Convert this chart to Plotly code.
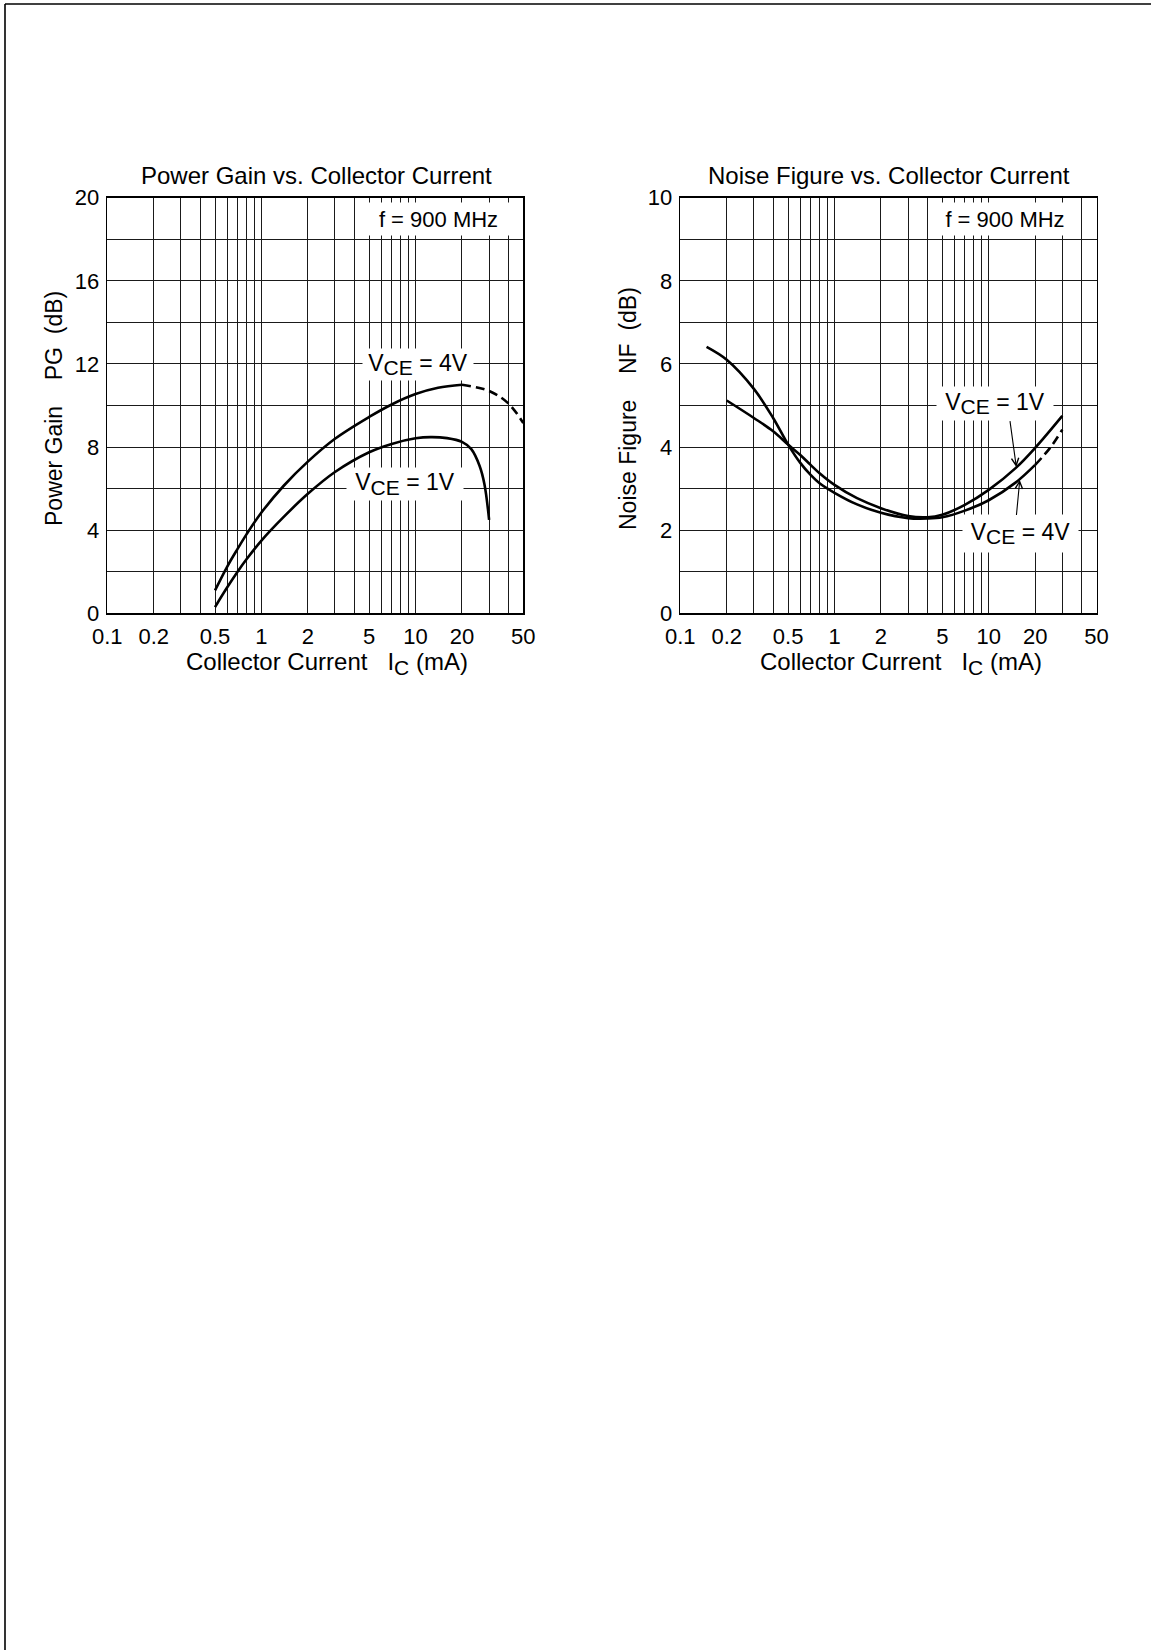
import numpy as np
import plotly.graph_objects as go

# ---------------- data ----------------
# Power gain vs collector current, f = 900 MHz
pg_4v_ic = [0.5, 0.6, 0.7, 0.8, 1.0, 1.4, 2.0, 3.0, 5.0, 7.0, 10.0, 14.0, 20.0]
pg_4v_db = [1.1, 2.25, 3.1, 3.8, 4.85, 6.15, 7.3, 8.4, 9.45, 10.05, 10.55, 10.85, 11.0]
pg_4v_dash_ic = [20.0, 30.0, 40.0, 50.0]
pg_4v_dash_db = [11.0, 10.7, 10.1, 9.15]

pg_1v_ic = [0.5, 0.6, 0.7, 0.8, 1.0, 1.4, 2.0, 3.0, 5.0, 7.0, 10.0, 12.5, 16.0, 20.0, 23.0, 26.0, 28.0, 30.0]
pg_1v_db = [0.3, 1.25, 2.0, 2.6, 3.5, 4.65, 5.75, 6.8, 7.75, 8.15, 8.42, 8.48, 8.43, 8.25, 7.9, 7.1, 6.2, 4.5]

# Noise figure vs collector current, f = 900 MHz
nf_4v_ic = [0.148, 0.2, 0.3, 0.4, 0.5, 0.6, 0.7, 0.8, 1.0, 1.4, 2.0, 3.0, 4.0, 5.0, 7.0, 10.0, 15.0, 20.0]
nf_4v_db = [6.41, 6.1, 5.4, 4.7, 4.06, 3.62, 3.33, 3.13, 2.9, 2.62, 2.42, 2.29, 2.28, 2.31, 2.47, 2.72, 3.15, 3.57]
nf_4v_dash_ic = [20.0, 25.0, 30.0]
nf_4v_dash_db = [3.57, 3.98, 4.42]

nf_1v_ic = [0.2, 0.3, 0.4, 0.5, 0.6, 0.7, 0.8, 1.0, 1.4, 2.0, 3.0, 4.0, 5.0, 7.0, 10.0, 15.0, 20.0, 30.0]
nf_1v_db = [5.12, 4.70, 4.38, 4.06, 3.81, 3.57, 3.37, 3.09, 2.77, 2.53, 2.34, 2.31, 2.37, 2.61, 2.97, 3.50, 3.98, 4.75]

# arrow targets on the NF curves (I_C, NF) and arrow tails
nf_1v_arrow_pt = (15.1, 3.52)
nf_1v_arrow_tail = (13.7, 4.66)
nf_4v_arrow_pt = (15.9, 3.21)
nf_4v_arrow_tail = (15.1, 2.33)

# axis ticks / grid
x_grid = [0.1, 0.2, 0.3, 0.4, 0.5, 0.6, 0.7, 0.8, 0.9,
          1, 2, 3, 4, 5, 6, 7, 8, 9, 10, 20, 30, 40, 50]
x_labels = {0.1: "0.1", 0.2: "0.2", 0.5: "0.5", 1: "1", 2: "2", 5: "5",
            10: "10", 20: "20", 50: "50"}
pg_grid = list(range(0, 21, 2))
pg_labels = [0, 4, 8, 12, 16, 20]
nf_grid = list(range(0, 11, 1))
nf_labels = [0, 2, 4, 6, 8, 10]

# ---------------- layout helpers ----------------
W, H = 1151, 1650
FONT = "Liberation Sans, Arial, Helvetica, sans-serif"


def px(x):
    return x / W


def py(y):
    return 1 - y / H


fig = go.Figure()

line_style = dict(color="black", width=2.6, shape="spline", smoothing=1.0)
dash_style = dict(color="black", width=2.6, shape="spline", smoothing=1.0, dash="9px,5px")

fig.add_trace(go.Scatter(x=pg_4v_ic, y=pg_4v_db, mode="lines", line=line_style, xaxis="x", yaxis="y"))
fig.add_trace(go.Scatter(x=pg_4v_dash_ic, y=pg_4v_dash_db, mode="lines", line=dash_style, xaxis="x", yaxis="y"))
fig.add_trace(go.Scatter(x=pg_1v_ic, y=pg_1v_db, mode="lines", line=line_style, xaxis="x", yaxis="y"))

fig.add_trace(go.Scatter(x=nf_4v_ic, y=nf_4v_db, mode="lines", line=line_style, xaxis="x2", yaxis="y2"))
fig.add_trace(go.Scatter(x=nf_4v_dash_ic, y=nf_4v_dash_db, mode="lines", line=dash_style, xaxis="x2", yaxis="y2"))
fig.add_trace(go.Scatter(x=nf_1v_ic, y=nf_1v_db, mode="lines", line=line_style, xaxis="x2", yaxis="y2"))

x_text = [x_labels.get(v, "") for v in x_grid]


def xaxis_cfg(dom):
    return dict(
        type="log", range=[np.log10(0.1), np.log10(50)], domain=dom,
        tickmode="array", tickvals=x_grid, ticktext=x_text,
        showgrid=True, gridcolor="#1a1a1a", gridwidth=1,
        showline=True, mirror=True, linecolor="black", linewidth=1.6,
        ticks="", ticklen=0, ticklabelstandoff=3, zeroline=False,
        tickfont=dict(family=FONT, size=22, color="black"),
        automargin=False, fixedrange=True,
    )


def yaxis_cfg(dom, rng, grid, labels, anchor):
    return dict(
        range=rng, domain=dom, anchor=anchor,
        tickmode="array", tickvals=grid,
        ticktext=[str(v) if v in labels else "" for v in grid],
        showgrid=True, gridcolor="#1a1a1a", gridwidth=1,
        showline=True, mirror=True, linecolor="black", linewidth=1.6,
        ticks="", ticklen=0, ticklabelstandoff=2, zeroline=False,
        tickfont=dict(family=FONT, size=22, color="black"),
        automargin=False, fixedrange=True,
    )


ydom = [py(613.3), py(197.7)]
fig.update_layout(
    width=W, height=H,
    margin=dict(l=0, r=0, t=0, b=0),
    paper_bgcolor="white", plot_bgcolor="white",
    showlegend=False,
    font=dict(family=FONT, color="black"),
    xaxis=xaxis_cfg([px(107.3), px(523.3)]) | dict(anchor="y"),
    yaxis=yaxis_cfg(ydom, [0, 20], pg_grid, pg_labels, "x"),
    xaxis2=xaxis_cfg([px(680.3), px(1096.5)]) | dict(anchor="y2"),
    yaxis2=yaxis_cfg(ydom, [0, 10], nf_grid, nf_labels, "x2"),
)

NB = "\u00a0"


def SUB(s, size):
    return '<sub><span style="font-size:%dpx">%s</span></sub>' % (size, s)


ann = []


def text(x, y, s, size=22, angle=0, w=None, h=None, bg=None):
    d = dict(x=px(x), y=py(y), xref="paper", yref="paper", text=s, showarrow=False,
             xanchor="center", yanchor="middle", textangle=angle,
             font=dict(family=FONT, size=size, color="black"))
    if w:
        d["width"] = w
    if h:
        d["height"] = h
    if bg:
        d["bgcolor"] = bg
        d["borderpad"] = 0
    ann.append(d)


# titles
text(316.7, 175, "Power Gain vs. Collector Current", size=24)
text(889, 175, "Noise Figure vs. Collector Current", size=24)
# x-axis titles
xt = "Collector Current" + NB * 3 + "I" + SUB("C", 21) + NB + "(mA)"
text(326.7, 663, xt, size=24)
text(900.5, 663, xt, size=24)
# y-axis titles
text(54, 409, "Power Gain" + NB * 3 + " PG" + NB * 2 + "(dB)", size=23, angle=-90)
text(628, 409, "Noise Figure" + NB * 3 + " NF" + NB + " (dB)", size=23, angle=-90)

# boxed labels
text(438.5, 219, "f = 900 MHz", size=22, w=147, h=32, bg="white")
text(1005, 219, "f = 900 MHz", size=22, w=140, h=32, bg="white")
vce4 = "V" + SUB("CE", 21) + " = 4V"
vce1 = "V" + SUB("CE", 21) + " = 1V"
text(418, 364.5, vce4, size=23, w=110, h=31, bg="white")
text(405, 484, vce1, size=23, w=116, h=32, bg="white")
text(995, 403.5, vce1, size=23, w=116, h=33, bg="white")
text(1020.5, 533, vce4, size=23, w=115, h=37, bg="white")

# arrows on the NF plot
for pt, tail in ((nf_1v_arrow_pt, nf_1v_arrow_tail), (nf_4v_arrow_pt, nf_4v_arrow_tail)):
    ann.append(dict(x=np.log10(pt[0]), y=pt[1], xref="x2", yref="y2",
                    ax=np.log10(tail[0]), ay=tail[1], axref="x2", ayref="y2", text="",
                    showarrow=True, arrowhead=5, arrowsize=1.3, arrowwidth=1.1,
                    arrowcolor="black"))

fig.update_layout(annotations=ann)

# page frame (left and top edges of the scanned sheet)
fig.add_shape(type="line", xref="paper", yref="paper", x0=px(5), x1=px(5), y0=0, y1=py(4),
              line=dict(color="black", width=1.6))
fig.add_shape(type="line", xref="paper", yref="paper", x0=px(5), x1=1, y0=py(4), y1=py(4),
              line=dict(color="black", width=1.6))

fig.write_html("out.html",
               config={"displayModeBar": False, "staticPlot": True},
               post_script="document.body.style.margin='0px';document.body.style.padding='0px';")
